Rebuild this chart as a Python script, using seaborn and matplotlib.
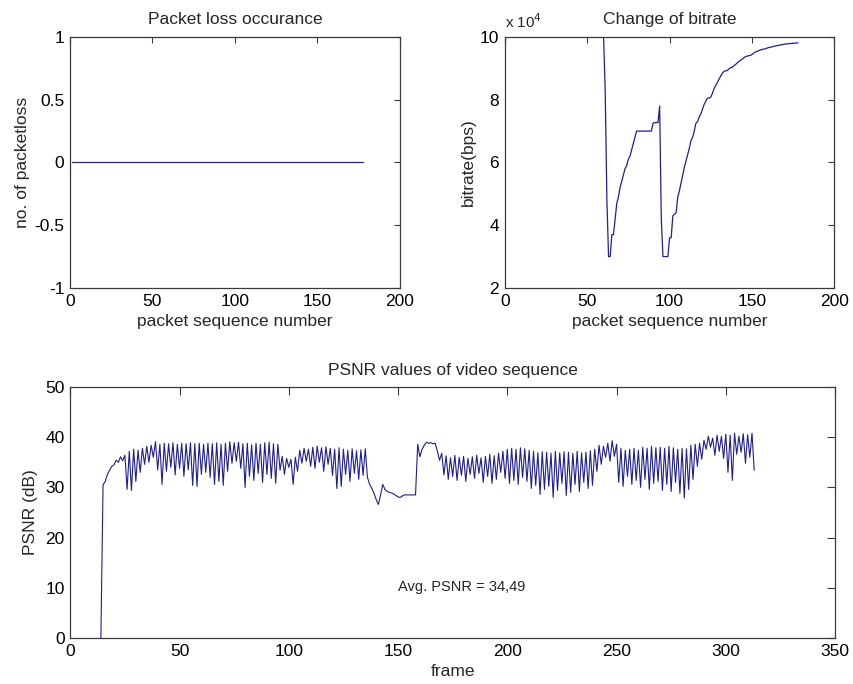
import numpy as np
import pandas as pd
import matplotlib
matplotlib.use("Agg")
import matplotlib.pyplot as plt
import seaborn as sns

# ---------------- data ----------------
# packet loss occurrence (packets 1..178, no loss)
loss_packets = list(range(1, 179))
loss_values = [0] * 178

# bitrate per packet (x 10^4 bps), packets 60..178
bitrate_start = 60
bitrate_1e4 = [
    10.0, 8.2, 4.8, 3.0, 3.0, 3.7, 3.7, 4.2, 4.7, 4.9,
    5.2, 5.4, 5.6, 5.8, 5.9, 6.1, 6.2, 6.4, 6.6, 6.8,
    7.0, 7.0, 7.0, 7.0, 7.0, 7.0, 7.0, 7.0, 7.0, 7.0,
    7.25, 7.27, 7.27, 7.27, 7.8, 4.2, 3.0, 3.0, 3.0, 3.0,
    3.6, 3.6, 4.3, 4.35, 4.4, 4.9, 5.1, 5.35, 5.6, 5.85,
    6.05, 6.25, 6.45, 6.7, 6.8, 7.0, 7.25, 7.3, 7.45, 7.55,
    7.7, 7.85, 7.95, 8.05, 8.05, 8.08, 8.2, 8.35, 8.45, 8.55,
    8.65, 8.75, 8.84, 8.9, 8.92, 8.93, 8.98, 9.02, 9.03, 9.08,
    9.12, 9.17, 9.22, 9.25, 9.29, 9.33, 9.37, 9.39, 9.40, 9.41,
    9.44, 9.48, 9.52, 9.54, 9.56, 9.58, 9.60, 9.61, 9.62, 9.64,
    9.66, 9.67, 9.68, 9.70, 9.71, 9.72, 9.73, 9.74, 9.75, 9.76,
    9.77, 9.78, 9.78, 9.79, 9.79, 9.80, 9.80, 9.81, 9.81,
]

# PSNR per frame (dB), frames 14..313
psnr_start = 14
psnr = [
    0.0,
    30.5, 31.2, 32.6, 33.4, 34.2, 34.5, 35.4, 35.0, 36.1, 35.3,
    36.4, 29.6, 37.2, 29.4, 37.6, 31.2, 37.4, 33.0, 37.8, 34.6,
    38.2, 35.0, 38.4, 36.0, 39.1, 33.5, 38.6, 30.6, 38.8, 33.2,
    38.7, 34.0, 38.9, 32.5, 38.6, 33.8, 38.8, 32.2, 38.7, 33.5,
    38.9, 30.4, 38.7, 30.2, 38.8, 32.6, 38.6, 33.0, 38.8, 32.0,
    38.7, 30.6, 38.9, 31.2, 38.6, 30.4, 38.8, 33.2, 39.1, 34.8,
    38.9, 35.2, 39.0, 33.8, 38.7, 30.0, 38.8, 32.2, 38.5, 31.4,
    38.8, 32.8, 38.6, 31.0, 38.9, 32.6, 39.0, 31.8, 38.7, 30.8,
    38.6, 33.4, 36.2, 32.6, 35.8, 34.0, 35.6, 30.6, 36.0, 33.2,
    37.4, 34.8, 37.8, 35.2, 37.6, 34.2, 38.0, 33.8, 38.2, 35.0,
    37.9, 33.2, 38.1, 34.6, 37.8, 32.4, 37.6, 29.8, 37.9, 30.2,
    37.6, 32.6, 37.4, 31.2, 37.7, 32.8, 37.3, 31.6, 37.5, 32.4,
    37.7, 32.0, 30.6, 29.8, 28.8, 27.6, 26.6, 28.5, 30.6, 29.6,
    29.2, 29.0, 28.9, 28.7, 28.4, 28.1, 28.0, 28.3, 28.5, 28.5,
    28.5, 28.5, 28.5, 28.5, 38.6, 36.1, 37.6, 38.4, 39.0, 38.8,
    38.9, 38.7, 38.8, 37.2, 35.4, 36.8,
    32.5, 36.3, 31.6, 35.9, 32.2, 36.4, 31.4, 36.0, 32.4, 36.2,
    31.2, 35.8, 32.6, 36.1, 31.8, 36.4, 32.8, 35.9, 31.0, 36.2,
    32.2, 36.6, 30.8, 36.3, 31.6, 36.8, 33.0, 37.2, 31.8, 37.6,
    30.8, 37.8, 31.4, 37.6, 30.6, 37.9, 32.0, 37.7, 31.2, 37.4,
    29.8, 37.2, 30.4, 36.9, 28.6, 37.1, 29.6, 37.0, 30.2, 36.8,
    28.0, 37.2, 29.4, 36.9, 30.8, 37.1, 28.4, 37.0, 29.0, 36.8,
    30.6, 37.2, 29.2, 36.9, 31.0, 37.0, 29.8, 37.3, 30.4, 37.6,
    33.2, 38.4, 34.6, 38.2, 36.0, 38.8, 35.2, 39.3, 36.2, 38.6,
    31.0, 37.8, 30.2, 37.4, 32.2, 37.6, 30.6, 37.8, 31.4, 37.4,
    30.0, 38.0, 31.6, 37.8, 29.6, 38.2, 30.8, 37.9, 31.2, 38.0,
    29.4, 37.8, 30.6, 38.2, 29.2, 37.9, 31.0, 37.6, 28.8, 37.8,
    27.9, 37.7, 29.6, 38.4, 31.6, 38.6, 34.2, 38.8, 35.6, 39.4,
    37.6, 40.2, 38.0, 39.8, 36.4, 40.4, 37.2, 40.2, 35.8, 40.6,
    33.0, 40.4, 31.4, 40.8, 36.6, 40.2, 37.0, 40.7, 34.8, 40.5,
    36.0, 40.8, 33.4,
]
avg_text = "Avg. PSNR = 34,49"

loss_df = pd.DataFrame({"packet": loss_packets, "loss": loss_values})
bit_df = pd.DataFrame({
    "packet": np.arange(bitrate_start, bitrate_start + len(bitrate_1e4)),
    "bitrate": np.array(bitrate_1e4) * 1e4,
})
psnr_df = pd.DataFrame({
    "frame": np.arange(psnr_start, psnr_start + len(psnr)),
    "psnr": psnr,
})

# ---------------- style ----------------
sns.set_style("white")
plt.rcParams["font.family"] = ["Liberation Sans", "DejaVu Sans"]
plt.rcParams["axes.unicode_minus"] = False

line_color = "#1e1e96"
spine_color = "#3a3a3a"
label_fs = 12.5

fig = plt.figure(figsize=(8.54, 6.84), dpi=100)
ax1 = fig.add_axes([0.082, 0.579, 0.386, 0.367])
ax2 = fig.add_axes([0.591, 0.579, 0.386, 0.367])
ax3 = fig.add_axes([0.0823, 0.0673, 0.8955, 0.3669])


def matlab_box(ax, ticklen):
    for s in ax.spines.values():
        s.set_visible(True)
        s.set_color(spine_color)
        s.set_linewidth(0.9)
    ax.tick_params(direction="in", top=True, right=True, length=ticklen,
                   width=0.8, color=spine_color, labelsize=12.5, pad=4,
                   labelcolor="black")


# Packet loss
sns.lineplot(data=loss_df, x="packet", y="loss", ax=ax1, color=line_color,
             linewidth=0.9)
ax1.set_xlim(0, 200)
ax1.set_ylim(-1, 1)
ax1.set_xticks([0, 50, 100, 150, 200])
ax1.set_yticks([-1, -0.5, 0, 0.5, 1])
ax1.set_yticklabels(["-1", "-0.5", "0", "0.5", "1"])
ax1.set_title("Packet loss occurance", fontsize=label_fs, pad=9)
ax1.set_xlabel("packet sequence number", fontsize=label_fs, labelpad=4)
ax1.set_ylabel("no. of packetloss", fontsize=label_fs, labelpad=3)
matlab_box(ax1, 4)

# Bitrate
sns.lineplot(data=bit_df, x="packet", y="bitrate", ax=ax2, color=line_color,
             linewidth=0.9)
ax2.set_xlim(0, 200)
ax2.set_ylim(20000, 100000)
ax2.set_xticks([0, 50, 100, 150, 200])
ax2.set_yticks([20000, 40000, 60000, 80000, 100000])
ax2.set_yticklabels(["2", "4", "6", "8", "10"])
ax2.set_title("Change of bitrate", fontsize=label_fs, pad=9)
ax2.set_xlabel("packet sequence number", fontsize=label_fs, labelpad=4)
ax2.set_ylabel("bitrate(bps)", fontsize=label_fs, labelpad=3)
ax2.text(0.0, 1.025, r"x 10$^{4}$", transform=ax2.transAxes, fontsize=11,
         ha="left", va="bottom")
matlab_box(ax2, 4)

# PSNR
sns.lineplot(data=psnr_df, x="frame", y="psnr", ax=ax3, color=line_color,
             linewidth=0.8)
ax3.set_xlim(0, 350)
ax3.set_ylim(0, 50)
ax3.set_xticks([0, 50, 100, 150, 200, 250, 300, 350])
ax3.set_yticks([0, 10, 20, 30, 40, 50])
ax3.set_title("PSNR values of video sequence", fontsize=label_fs, pad=9)
ax3.set_xlabel("frame", fontsize=label_fs, labelpad=4)
ax3.set_ylabel("PSNR (dB)", fontsize=label_fs, labelpad=5)
ax3.text(150, 10.2, avg_text, fontsize=10.5, ha="left", va="center")
matlab_box(ax3, 6)

fig.savefig("out.png", dpi=100, facecolor="white")
